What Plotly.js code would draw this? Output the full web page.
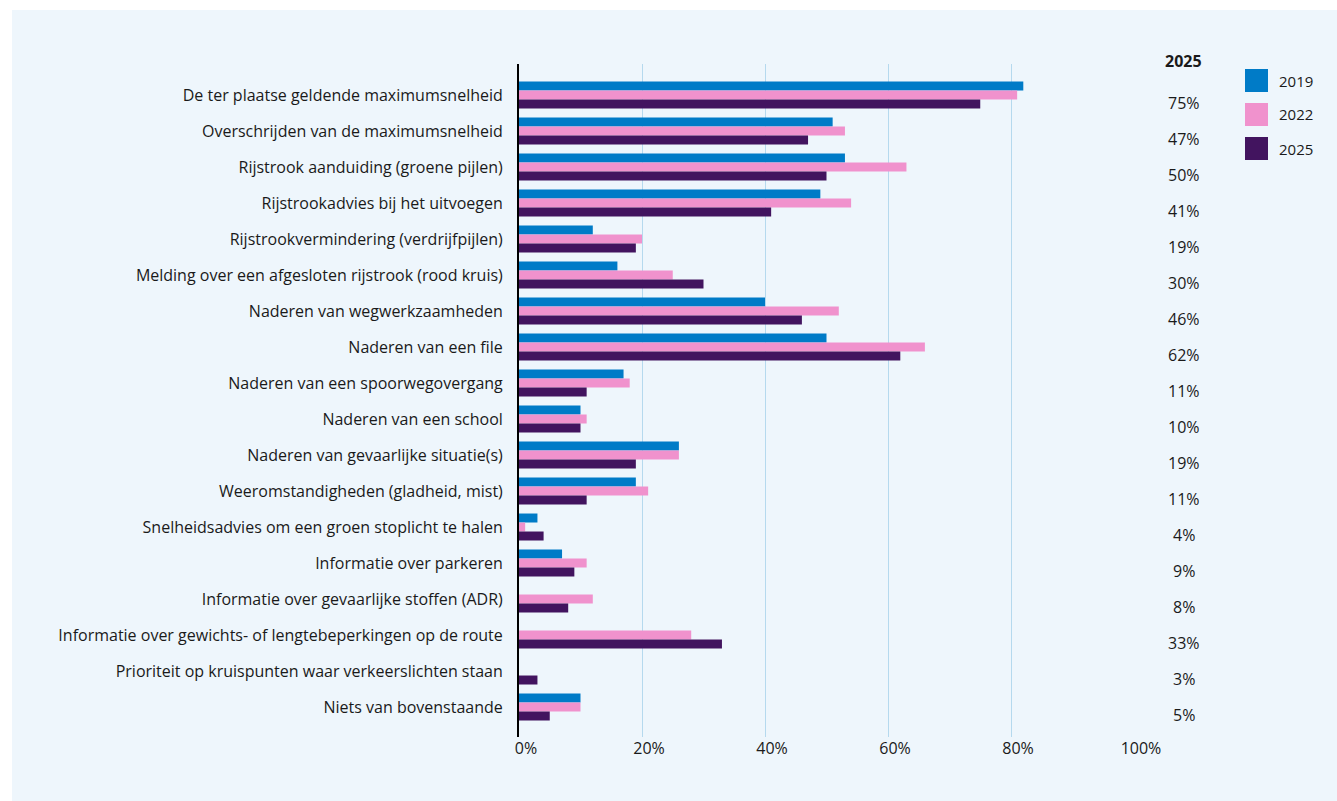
<!DOCTYPE html>
<html>
<head>
<meta charset="utf-8">
<script src="https://cdn.plot.ly/plotly-3.0.1.min.js"></script>
<style>
  html, body { margin: 0; padding: 0; background: #ffffff; }
  #chart { position: absolute; left: 12px; top: 10px; width: 1325px; height: 791px; }
</style>
</head>
<body>
<div id="chart"></div>
<script>
// ---- data ----
const categories = [
  "De ter plaatse geldende maximumsnelheid",
  "Overschrijden van de maximumsnelheid",
  "Rijstrook aanduiding (groene pijlen)",
  "Rijstrookadvies bij het uitvoegen",
  "Rijstrookvermindering (verdrijfpijlen)",
  "Melding over een afgesloten rijstrook (rood kruis)",
  "Naderen van wegwerkzaamheden",
  "Naderen van een file",
  "Naderen van een spoorwegovergang",
  "Naderen van een school",
  "Naderen van gevaarlijke situatie(s)",
  "Weeromstandigheden (gladheid, mist)",
  "Snelheidsadvies om een groen stoplicht te halen",
  "Informatie over parkeren",
  "Informatie over gevaarlijke stoffen (ADR)",
  "Informatie over gewichts- of lengtebeperkingen op de route",
  "Prioriteit op kruispunten waar verkeerslichten staan",
  "Niets van bovenstaande"
];
const values2019 = [82, 51, 53, 49, 12, 16, 40, 50, 17, 10, 26, 19, 3, 7, null, null, null, 10];
const values2022 = [81, 53, 63, 54, 20, 25, 52, 66, 18, 11, 26, 21, 1, 11, 12, 28, null, 10];
const values2025 = [75, 47, 50, 41, 19, 30, 46, 62, 11, 10, 19, 11, 4, 9, 8, 33, 3, 5];
const seriesNames = ["2019", "2022", "2025"];
const seriesColors = ["#007BC7", "#F092CD", "#42145F"];
const tickValues = [0, 20, 40, 60, 80, 100];
const tickLabels = ["0%", "20%", "40%", "60%", "80%", "100%"];
const columnHeader = "2025";

// ---- styling ----
const FONT = "Open Sans, Noto Sans, sans-serif";
const TEXT = "#1a1a1a";
const PANEL = "#EEF6FC";
const GRID = "#B5D9EE";

const allSeries = [values2019, values2022, values2025];
const traces = allSeries.map((vals, i) => ({
  type: "bar",
  orientation: "h",
  name: seriesNames[i],
  x: vals,
  y: categories,
  marker: { color: seriesColors[i] },
  hoverinfo: "skip",
  showlegend: false
}));

const annotations = [];
// header of right-hand column
annotations.push({
  xref: "paper", yref: "paper", x: 1.0813, y: 1.0045,
  text: "<b>" + columnHeader + "</b>", showarrow: false,
  xanchor: "center", yanchor: "middle",
  font: { family: FONT, size: 16, color: TEXT }
});
// right-hand column values (2025)
values2025.forEach((v, i) => {
  annotations.push({
    xref: "paper", yref: "y", x: 1.0813, y: categories[i],
    text: v + "%", showarrow: false, xanchor: "center", yanchor: "middle",
    yshift: -8,
    font: { family: FONT, size: 16, color: TEXT }
  });
});

// manual legend (large square swatches)
const shapes = [];
const plotH = 673;
const legTop = 69, legStep = 34, sw = 23;
const toPaperY = (py) => (737 - py) / plotH;
seriesNames.forEach((name, i) => {
  const top = legTop + i * legStep;
  shapes.push({
    type: "rect", xref: "paper", yref: "paper",
    x0: 1.1805, x1: 1.2179, y0: toPaperY(top + sw), y1: toPaperY(top),
    fillcolor: seriesColors[i], line: { width: 0 }
  });
  annotations.push({
    xref: "paper", yref: "paper", x: 1.2325, y: toPaperY(top + sw / 2),
    text: name, showarrow: false, xanchor: "left", yanchor: "middle",
    font: { family: FONT, size: 15, color: TEXT }
  });
});

const layout = {
  width: 1325,
  height: 791,
  margin: { l: 507, r: 203, t: 54, b: 64 },
  paper_bgcolor: PANEL,
  plot_bgcolor: PANEL,
  barmode: "group",
  bargap: 0.25,
  bargroupgap: 0,
  showlegend: false,
  font: { family: FONT, size: 16, color: TEXT },
  xaxis: {
    range: [0, 100],
    tickvals: tickValues,
    ticktext: tickLabels,
    showgrid: true,
    gridcolor: GRID,
    gridwidth: 1,
    zeroline: false,
    showline: false,
    ticks: "",
    ticklabelshift: 7,
    tickfont: { family: FONT, size: 16, color: TEXT },
    fixedrange: true
  },
  yaxis: {
    type: "category",
    categoryorder: "array",
    categoryarray: categories,
    range: [17.833, -0.861],
    showline: true,
    linecolor: "#000000",
    linewidth: 2,
    showgrid: false,
    zeroline: false,
    ticks: "",
    ticklabelstandoff: 11,
    tickfont: { family: FONT, size: 16, color: TEXT },
    fixedrange: true
  },
  annotations: annotations,
  shapes: shapes
};

Plotly.newPlot("chart", traces, layout, { staticPlot: true, displayModeBar: false });
</script>
</body>
</html>
